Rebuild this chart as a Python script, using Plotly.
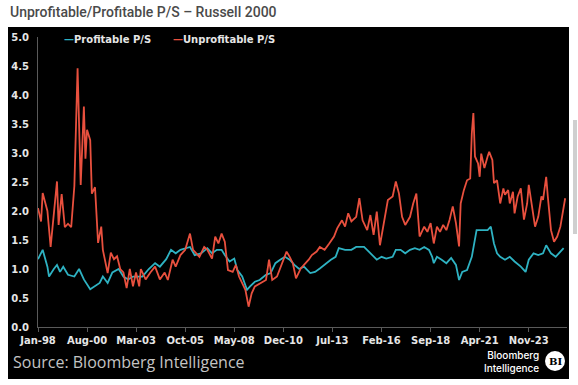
import plotly.graph_objects as go

# ---------------- data ----------------
unprof_dates = [
    "1998-01","1998-03","1998-04","1998-05","1998-07","1998-09","1998-11","1999-01","1999-02","1999-04",
    "1999-06","1999-08","1999-10","1999-12","2000-02","2000-04","2000-06","2000-07","2000-08","2000-10",
    "2000-11","2001-01","2001-03","2001-05","2001-06","2001-09","2001-11","2002-01","2002-03","2002-05",
    "2002-07","2002-09","2002-11","2003-01","2003-03","2003-05","2003-06","2003-09","2003-12","2004-03",
    "2004-06","2004-09","2004-11","2005-02","2005-04","2005-07","2005-10","2006-01","2006-03","2006-07",
    "2006-10","2006-12","2007-03","2007-05","2007-07","2007-09","2007-11","2008-01","2008-04","2008-06",
    "2008-08","2008-10","2008-12","2009-02","2009-04","2009-06","2009-09","2010-01","2010-03","2010-05",
    "2010-08","2010-11","2011-02","2011-04","2011-06","2011-08","2011-11","2012-01","2012-04","2012-06",
    "2012-09","2012-11","2013-02","2013-05","2013-08","2013-10","2014-01","2014-03","2014-05","2014-07",
    "2014-10","2014-12","2015-02","2015-05","2015-07","2015-09","2015-11","2016-01","2016-04","2016-06",
    "2016-09","2016-11","2017-01","2017-03","2017-05","2017-08","2017-10","2017-12","2018-02","2018-05",
    "2018-07","2018-09","2018-11","2019-01","2019-03","2019-05","2019-07","2019-09","2019-11","2020-01",
    "2020-03","2020-04","2020-06","2020-08","2020-10","2020-11","2020-12","2021-01","2021-03","2021-04",
    "2021-05","2021-07","2021-09","2021-10","2021-12","2022-01","2022-03","2022-05","2022-07","2022-08",
    "2022-10","2022-11","2023-01","2023-02","2023-04","2023-06","2023-08","2023-10","2023-11","2024-01",
    "2024-03","2024-05","2024-07","2024-08","2024-10","2024-11","2025-01","2025-03","2025-05","2025-07",
    "2025-10",
]
unprof_ps = [
    2.05, 1.82, 2.31, 2.20, 2.00, 1.38, 1.99, 2.51, 1.76, 2.29,
    1.72, 1.78, 1.72, 2.43, 4.46, 2.45, 3.80, 2.90, 3.40, 3.22,
    2.30, 2.41, 1.45, 1.73, 1.33, 0.93, 1.28, 1.17, 1.22, 1.00,
    0.94, 0.67, 1.00, 0.70, 0.94, 0.70, 1.00, 0.82, 0.94, 1.04,
    0.82, 0.94, 0.81, 1.16, 1.04, 1.24, 1.33, 1.61, 1.33, 1.21,
    1.38, 1.33, 1.18, 1.56, 1.44, 1.61, 1.47, 0.98, 0.95, 1.07,
    0.87, 0.75, 0.64, 0.35, 0.58, 0.70, 0.75, 0.81, 1.16, 0.81,
    0.87, 1.10, 1.30, 1.21, 1.10, 0.84, 1.01, 1.07, 1.16, 1.24,
    1.30, 1.38, 1.33, 1.44, 1.56, 1.70, 1.84, 1.73, 1.96, 1.82,
    1.90, 2.22, 1.84, 1.67, 1.93, 1.59, 1.99, 1.41, 1.84, 2.19,
    2.25, 2.51, 2.30, 1.90, 1.76, 1.90, 2.13, 2.30, 1.56, 1.73,
    1.64, 1.79, 1.44, 1.73, 1.64, 1.76, 1.67, 1.85, 2.08, 1.79,
    1.39, 2.13, 2.36, 2.53, 2.56, 3.34, 3.69, 2.94, 2.82, 2.59,
    2.99, 2.74, 2.94, 3.02, 2.88, 2.48, 2.53, 2.13, 2.39, 2.28,
    2.36, 2.13, 2.33, 1.96, 2.25, 2.39, 1.85, 2.13, 2.45, 2.08,
    1.73, 1.90, 2.25, 2.19, 2.59, 2.25, 1.67, 1.47, 1.56, 1.73,
    2.22,
]

prof_dates = [
    "1998-01","1998-04","1998-07","1998-08","1998-11","1999-01","1999-03","1999-05","1999-08","1999-12",
    "2000-03","2000-06","2000-10","2001-01","2001-04","2001-06","2001-09","2001-12","2002-04","2002-07",
    "2002-10","2003-01","2003-07","2003-11","2004-03","2004-06","2004-10","2005-01","2005-04","2005-07",
    "2005-10","2006-01","2006-04","2006-08","2006-12","2007-03","2007-06","2007-09","2007-11","2008-02",
    "2008-05","2008-07","2008-10","2009-01","2009-03","2009-06","2009-09","2010-01","2010-04","2010-07",
    "2010-10","2011-01","2011-04","2011-07","2011-10","2012-01","2012-05","2012-08","2012-11","2013-03",
    "2013-06","2013-09","2013-11","2014-03","2014-07","2014-10","2015-03","2015-06","2015-09","2015-11",
    "2016-02","2016-05","2016-09","2016-11","2017-02","2017-05","2017-08","2017-11","2018-02","2018-05",
    "2018-08","2018-10","2018-11","2019-01","2019-04","2019-07","2019-10","2020-01","2020-03","2020-05",
    "2020-08","2020-11","2021-02","2021-05","2021-09","2021-11","2022-01","2022-03","2022-05","2022-08",
    "2022-11","2023-02","2023-06","2023-09","2023-11","2024-02","2024-05","2024-08","2024-10","2025-01",
    "2025-04","2025-06","2025-09",
]
prof_ps = [
    1.17, 1.33, 1.04, 0.87, 1.00, 1.07, 0.95, 1.04, 0.90, 0.87,
    1.00, 0.82, 0.65, 0.70, 0.76, 0.87, 0.76, 0.94, 1.00, 0.87,
    0.82, 0.87, 0.87, 1.00, 1.10, 1.04, 1.17, 1.33, 1.27, 1.33,
    1.36, 1.38, 1.24, 1.27, 1.36, 1.27, 1.33, 1.33, 1.24, 1.13,
    1.18, 0.98, 0.87, 0.64, 0.70, 0.78, 0.81, 0.90, 0.93, 1.10,
    1.16, 1.21, 1.16, 1.07, 1.00, 1.04, 0.93, 0.95, 1.01, 1.10,
    1.16, 1.21, 1.36, 1.33, 1.33, 1.38, 1.38, 1.30, 1.21, 1.16,
    1.21, 1.18, 1.21, 1.33, 1.33, 1.27, 1.33, 1.36, 1.33, 1.38,
    1.33, 1.21, 1.10, 1.21, 1.16, 1.10, 1.19, 1.07, 0.81, 0.95,
    0.98, 1.21, 1.67, 1.67, 1.67, 1.73, 1.44, 1.27, 1.21, 1.16,
    1.21, 1.13, 1.04, 0.95, 1.16, 1.27, 1.24, 1.27, 1.41, 1.27,
    1.21, 1.27, 1.36,
]

tick_dates = ["1998-01-01", "2000-08-01", "2003-03-01", "2005-10-01", "2008-05-01", "2010-12-01",
              "2013-07-01", "2016-02-01", "2018-09-01", "2021-04-01", "2023-11-01"]
tick_labels = ["Jan-98", "Aug-00", "Mar-03", "Oct-05", "May-08", "Dec-10",
               "Jul-13", "Feb-16", "Sep-18", "Apr-21", "Nov-23"]
y_ticks = [0.0, 0.5, 1.0, 1.5, 2.0, 2.5, 3.0, 3.5, 4.0, 4.5, 5.0]

title_text = "Unprofitable/Profitable P/S – Russell 2000"
source_text = "Source: Bloomberg Intelligence"
series_names = ["Profitable P/S", "Unprofitable P/S"]

# ---------------- styling ----------------
W, H = 578, 385
ML, MT = 38, 37
MR = W - 567
MB = H - 327
PW, PH = W - ML - MR, H - MT - MB
CYAN = "#2eb2c2"
RED = "#e8503e"
TICKFONT = dict(family="DejaVu Sans", size=10, color="#e6e6e6", weight="bold")

fig = go.Figure()
fig.add_trace(go.Scatter(x=prof_dates, y=prof_ps, mode="lines", name=series_names[0],
                         line=dict(color=CYAN, width=1.8)))
fig.add_trace(go.Scatter(x=unprof_dates, y=unprof_ps, mode="lines", name=series_names[1],
                         line=dict(color=RED, width=1.8)))

def px(x):
    return (x - ML) / PW

def py(y):
    return (H - MB - y) / PH

shapes = [
    dict(type="rect", xref="paper", yref="paper", x0=px(8), x1=px(569), y0=py(379), y1=py(27),
         fillcolor="#000000", line=dict(width=0), layer="below"),
    dict(type="rect", xref="paper", yref="paper", x0=px(573), x1=px(577), y0=py(234), y1=py(120),
         fillcolor="#cfcfcf", line=dict(width=0), layer="below"),
    dict(type="circle", xref="paper", yref="paper", x0=px(545), x1=px(565), y0=py(371), y1=py(351),
         fillcolor="#ffffff", line=dict(width=0)),
]

annotations = [
    dict(text=title_text, xref="paper", yref="paper", x=px(8), y=py(12), xanchor="left", yanchor="middle",
         showarrow=False, font=dict(family="Roboto", size=14, color="#4a4a4a", weight=500)),
    dict(text=source_text, xref="paper", yref="paper", x=px(11), y=py(362), xanchor="left", yanchor="middle",
         showarrow=False, font=dict(family="Open Sans", size=16, color="#c4c4c4")),
    dict(text="Bloomberg<br>Intelligence", xref="paper", yref="paper", x=px(541), y=py(361),
         xanchor="right", yanchor="middle", align="right", showarrow=False,
         font=dict(family="Inter", size=10, color="#ffffff", weight=500)),
    dict(text="BI", xref="paper", yref="paper", x=px(555), y=py(361), xanchor="center", yanchor="middle",
         showarrow=False, font=dict(family="DejaVu Serif", size=10, color="#000000", weight="bold")),
    dict(text=f"<span style='color:{CYAN}'>—</span>{series_names[0]}", xref="paper", yref="paper",
         x=px(62), y=py(39), xanchor="left", yanchor="middle", showarrow=False,
         font=dict(family="DejaVu Sans", size=10, color="#e6e6e6", weight="bold")),
    dict(text=f"<span style='color:{RED}'>—</span>{series_names[1]}", xref="paper", yref="paper",
         x=px(171), y=py(39), xanchor="left", yanchor="middle", showarrow=False,
         font=dict(family="DejaVu Sans", size=10, color="#e6e6e6", weight="bold")),
]

fig.update_layout(
    width=W, height=H,
    margin=dict(l=ML, r=MR, t=MT, b=MB, autoexpand=False),
    paper_bgcolor="#ffffff",
    plot_bgcolor="rgba(0,0,0,0)",
    showlegend=False,
    hovermode=False,
    shapes=shapes,
    annotations=annotations,
)
fig.update_xaxes(
    type="date", range=["1998-01-01", "2025-11-05"], automargin=False,
    tickvals=tick_dates, ticktext=tick_labels, tickfont=TICKFONT,
    showgrid=False, zeroline=False, showline=True, linecolor="#5a5a5a", linewidth=1,
    ticks="outside", ticklen=4, tickcolor="#5a5a5a",
)
fig.update_yaxes(
    range=[0, 5], tickvals=y_ticks, tickformat=".1f", tickfont=TICKFONT, automargin=False,
    showgrid=False, zeroline=False, showline=True, linecolor="#5a5a5a", linewidth=1,
    ticks="", ticklabelstandoff=6,
)

# remove the browser's default 8px body margin so the figure sits at the page origin
fig.write_html("out.html", config={"displayModeBar": False},
               post_script="document.body.style.margin='0';")
